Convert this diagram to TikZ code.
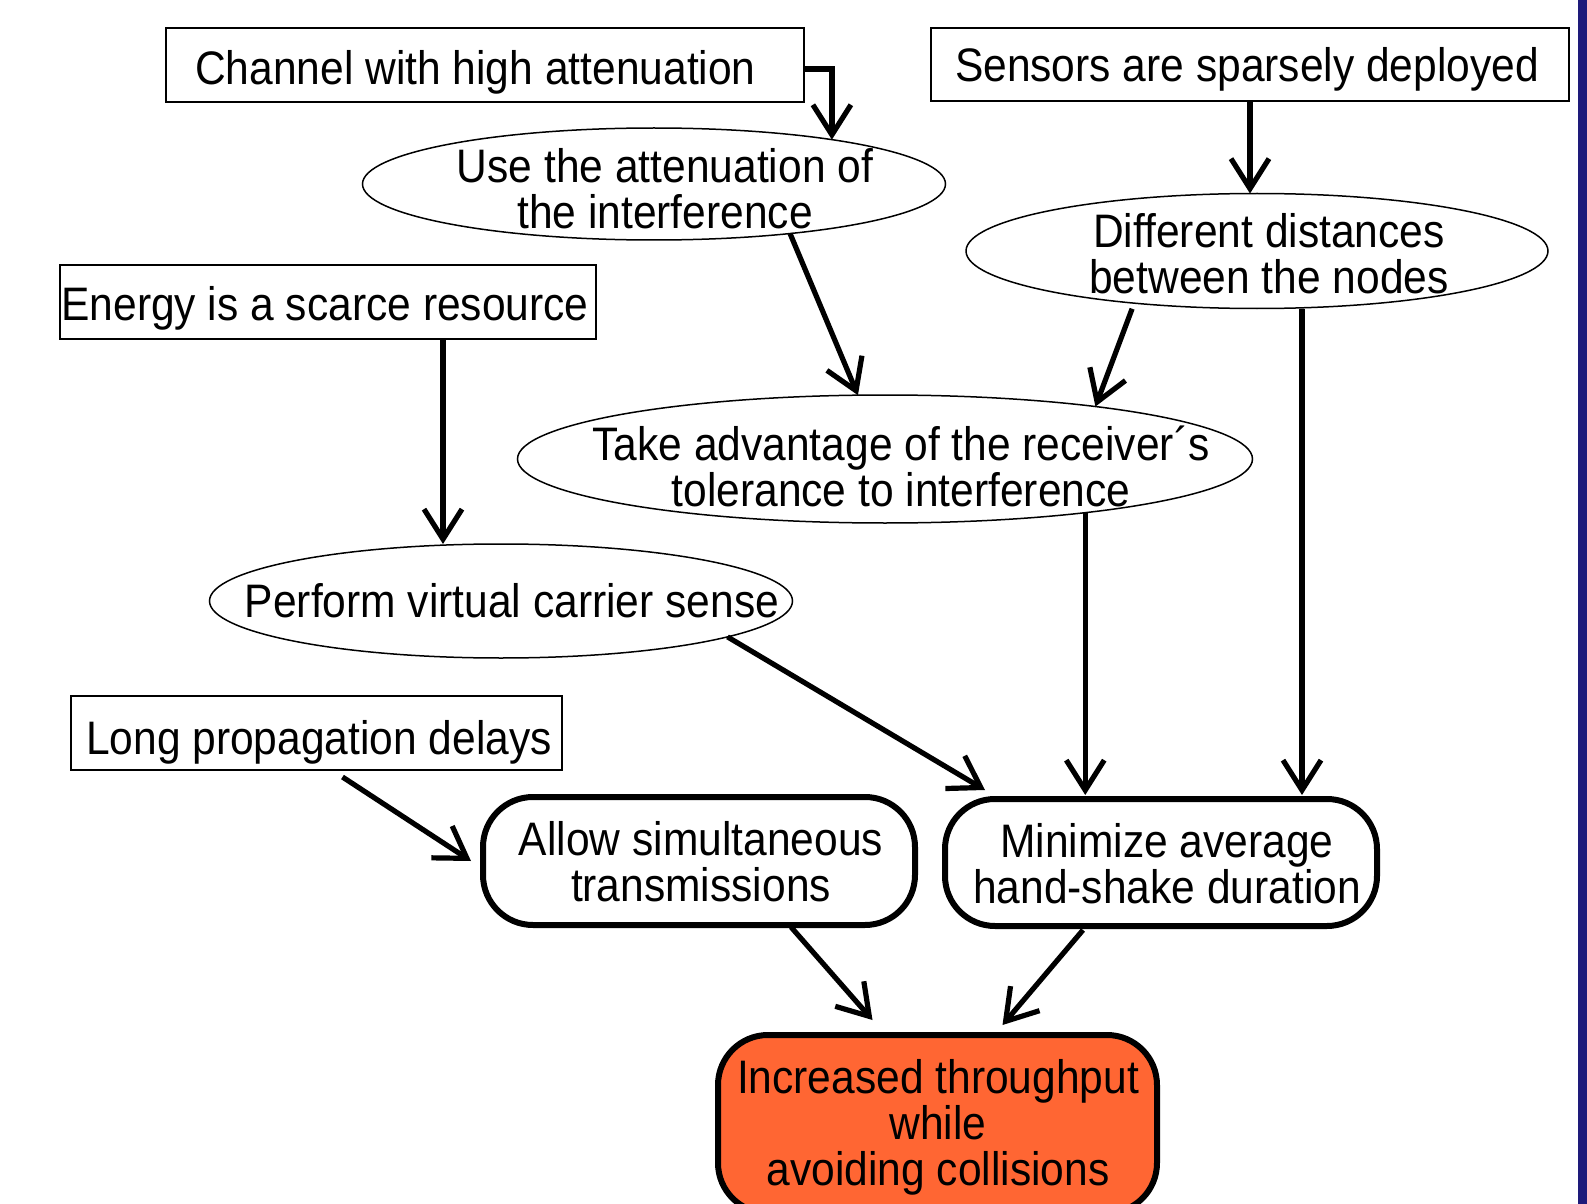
\documentclass[tikz,border=0pt]{standalone}
\usepackage{fontspec}
\setmainfont{Liberation Sans}[FakeStretch=0.905]
\usetikzlibrary{shapes.geometric,arrows.meta}
\definecolor{barblue}{RGB}{30,26,122}
\definecolor{hotorange}{RGB}{255,102,51}
\begin{document}
\begin{tikzpicture}[x=0.5pt,y=-0.5pt,
  txt/.style={font=\fontsize{23.5pt}{23pt}\selectfont, align=center, inner sep=0pt, outer sep=0pt},
  sqbox/.style={draw, line width=1pt, inner sep=0pt, outer sep=0pt},
  ellbox/.style={draw, ellipse, line width=0.75pt, inner sep=0pt, outer sep=0pt},
  rbox/.style={draw, line width=3pt, rounded corners=25pt, inner sep=0pt, outer sep=0pt},
  arr/.style={line width=2.6pt, -{Straight Barb[length=15pt,width=19pt]}}]
\useasboundingbox (0,0) rectangle (1587,1204);
\clip (0,0) rectangle (1587,1204);
\fill[white] (0,0) rectangle (1587,1204);
\fill[barblue] (1578,0) rectangle (1587,1204);

% rectangular boxes
\node[sqbox, minimum width=319pt, minimum height=37pt] (chan) at (485,65) {};
\node[txt, anchor=base] (chanT) at (475.5,85) {Channel with high attenuation};
\node[sqbox, minimum width=319pt, minimum height=36.5pt] (sens) at (1250,64.5) {};
\node[txt, anchor=base] (sensT) at (1247,82) {Sensors are sparsely deployed};
\node[sqbox, minimum width=268pt, minimum height=37pt] (energy) at (328,302) {};
\node[txt, anchor=base] (energyT) at (325,321) {Energy is a scarce resource};
\node[sqbox, minimum width=245.5pt, minimum height=37pt] (long) at (316.5,733) {};
\node[txt, anchor=base] (longT) at (319,754) {Long propagation delays};

% ellipses
\node[ellbox, minimum width=291.5pt, minimum height=56pt] (use) at (654,184) {};
\node[txt] (useT) at (665,189) {Use the attenuation of\\the interference};
\node[ellbox, minimum width=291pt, minimum height=57.5pt] (diff) at (1257,251) {};
\node[txt] (diffT) at (1269,253.75) {Different distances\\between the nodes};
\node[ellbox, minimum width=367.5pt, minimum height=64pt] (take) at (885,459) {};
\node[txt] (takeT) at (901,466.75) {Take advantage of the receiver´s\\tolerance to interference};
\node[ellbox, minimum width=291.5pt, minimum height=57pt] (perform) at (501,601) {};
\node[txt, anchor=base] (performT) at (512,617) {Perform virtual carrier sense};

% rounded boxes
\node[rbox, minimum width=216pt, minimum height=64pt] (allow) at (699,861) {};
\node[txt] (allowT) at (701,862) {Allow simultaneous\\transmissions};
\node[rbox, minimum width=216pt, minimum height=63.5pt] (minim) at (1161,862.5) {};
\node[txt] (minimT) at (1167,864) {Minimize average\\hand-shake duration};
\node[rbox, fill=hotorange, minimum width=219.5pt, minimum height=89pt] (inc) at (937.5,1124) {};
\node[txt] (incT) at (938,1127.5) {Increased throughput\\while\\avoiding collisions};

% connectors
\draw[arr] ([yshift=-2pt]chan.east) -| (use.14);
\draw[arr] (sens.south) -- (sens.south |- diff.north);
\draw[arr] (use.-20) -- (take.113);
\draw[arr, shorten <=3pt] (diff.-157) -- (take.14);
\draw[arr] ([xshift=22.5pt]diff.south) -- ([xshift=70.5pt,yshift=2pt]minim.north);
\draw[arr] ([xshift=57.5pt]energy.south) -- ([xshift=-29pt]perform.north);
\coordinate (mtop) at ([yshift=2pt]minim.north);
\draw[arr] (take.-15) -- (take.-15 |- mtop);
\draw[arr] (perform.-9) -- ([xshift=20pt,yshift=4.5pt]minim.north west);
\draw[arr] ([xshift=13pt,yshift=-3.5pt]long.south) -- ([xshift=-6pt]allow.west);
\draw[arr] ([xshift=46pt,yshift=-1pt]allow.south) -- ([xshift=-32.5pt,yshift=7.5pt]inc.north);
\draw[arr] ([xshift=-39pt,yshift=-2pt]minim.south) -- ([xshift=32.5pt,yshift=5pt]inc.north);
\end{tikzpicture}
\end{document}
